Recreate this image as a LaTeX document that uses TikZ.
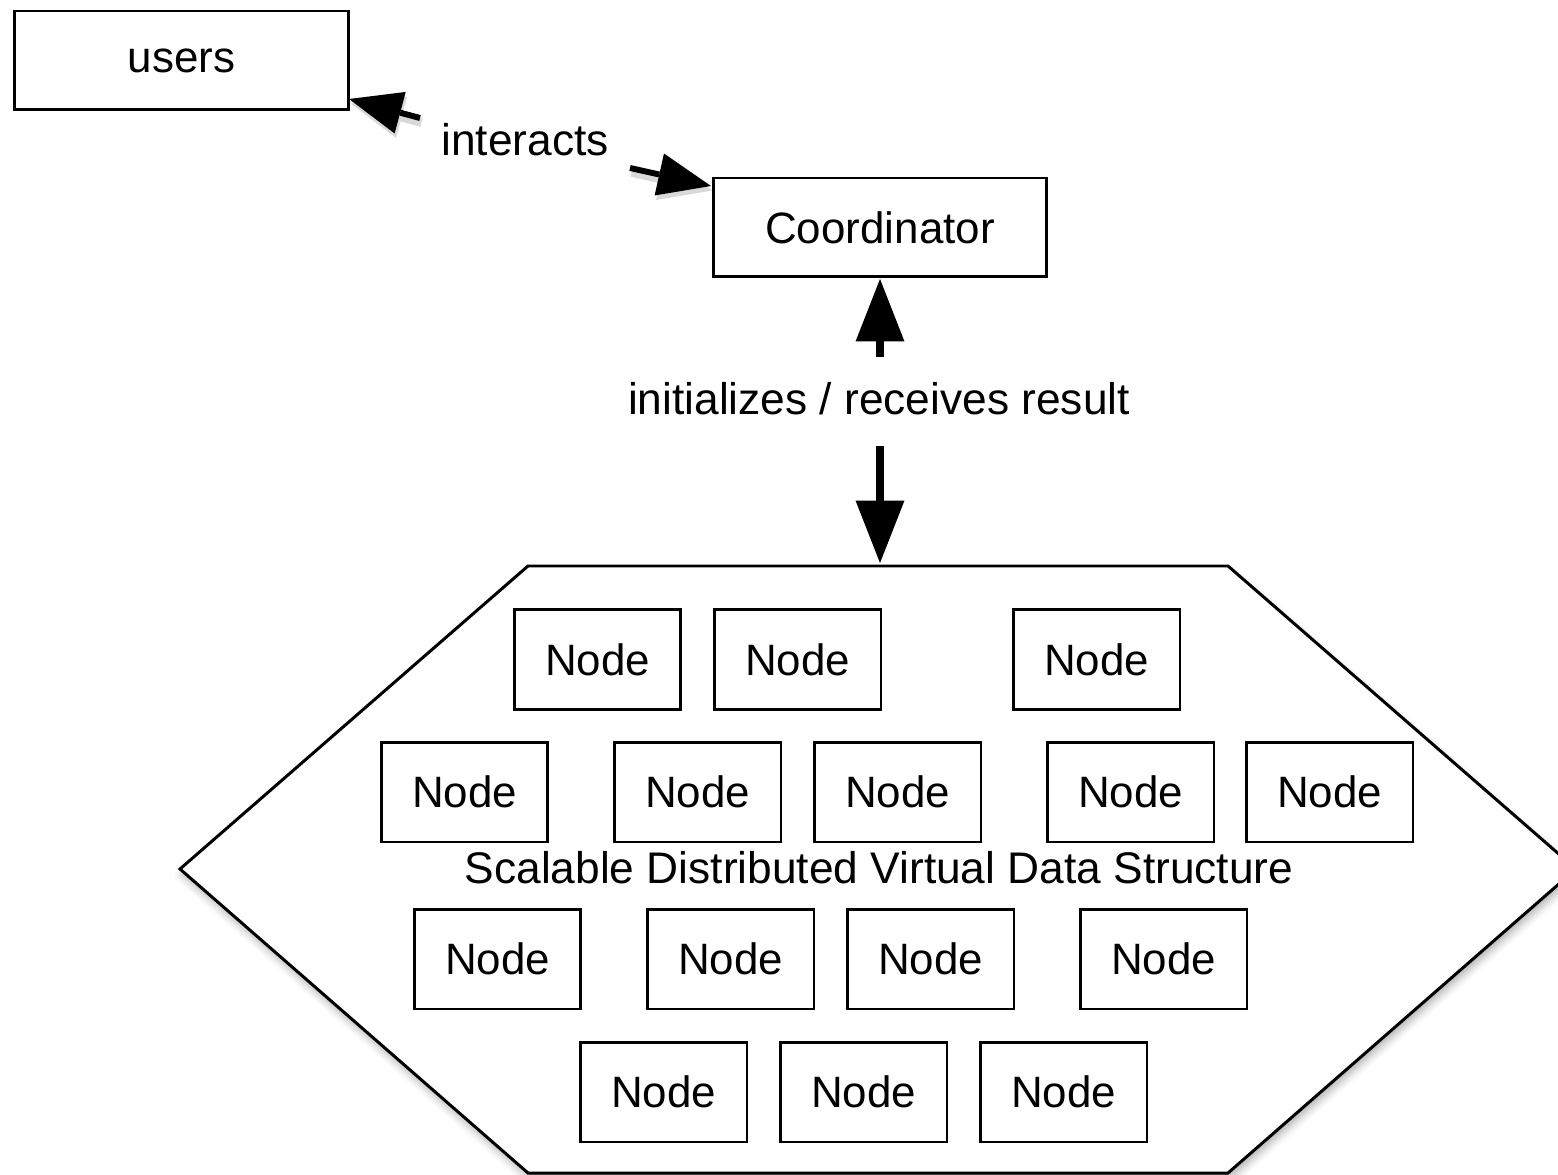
\documentclass[tikz,border=0pt]{standalone}
\usepackage{fontspec}
\setmainfont{Liberation Sans}
\usetikzlibrary{arrows.meta,shadows.blur}

\tikzset{
  box/.style={draw, line width=1.7pt, fill=white, minimum width=3.34cm, minimum height=2cm,
              inner sep=0pt, font=\fontsize{25}{30}\selectfont},
  bigbox/.style={box, minimum width=6.68cm, minimum height=1.98cm},
  lbl/.style={font=\fontsize{25.2}{30}\selectfont, inner sep=0pt},
  arrshadow/.style={preaction={draw=black, opacity=0.15, line width=5pt,
                    -{Triangle[length=1.06cm, width=0.86cm, line width=0pt, fill=black]},
                    transform canvas={shift={(0.03cm,-0.09cm)}}}},
  thinarrow/.style={line width=3.4pt, arrshadow,
                    -{Triangle[length=1.06cm, width=0.86cm, line width=0pt, fill=black]}},
  thickarrow/.style={line width=5pt,
                     -{Triangle[length=1.25cm, width=0.98cm, line width=0pt, fill=black]}},
}

\begin{document}
\begin{tikzpicture}[x=0.02cm, y=-0.02cm]
  \useasboundingbox (0,0) rectangle (1558,1175);

  % data structure outline
  \coordinate (h1) at (528,566);
  \coordinate (h2) at (1228,566);
  \coordinate (h3) at (1576,869);
  \coordinate (h4) at (1228,1173);
  \coordinate (h5) at (528,1173);
  \coordinate (h6) at (180,869);
  \path[draw, line width=1.7pt, line join=miter, fill=white,
        blur shadow={shadow xshift=0.04cm, shadow yshift=-0.12cm,
                     shadow blur radius=0.15cm, shadow opacity=30}]
    (h1) -- (h2) -- (h3) -- (h4) -- (h5) -- (h6) -- cycle;

  % users and coordinator
  \node[bigbox] (users) at (181.5,60.5) {users};
  \node[bigbox] (coord) at (880,227.5) {Coordinator};

  % nodes of the data structure
  \node[box] (n11) at (597.5,659.5) {Node};
  \node[box] (n12) at (797.5,659.5) {Node};
  \node[box] (n13) at (1096.5,659.5) {Node};

  \node[box] (n21) at (464.5,792) {Node};
  \node[box] (n22) at (697.5,792) {Node};
  \node[box] (n23) at (897.5,792) {Node};
  \node[box] (n24) at (1130.5,792) {Node};
  \node[box] (n25) at (1329.5,792) {Node};

  \node[lbl] (sdds) at (879,868) {Scalable Distributed Virtual Data Structure};

  \node[box] (n31) at (497.5,959) {Node};
  \node[box] (n32) at (730.5,959) {Node};
  \node[box] (n33) at (930.5,959) {Node};
  \node[box] (n34) at (1163.5,959) {Node};

  \node[box] (n41) at (663.5,1092) {Node};
  \node[box] (n42) at (863.5,1092) {Node};
  \node[box] (n43) at (1063.5,1092) {Node};

  % labels
  \node[lbl] (inter) at (525,140) {interacts};
  \node[lbl] (init) at (879,399) {initializes / receives result};

  % connector ends
  \coordinate (u0) at (420,118);
  \coordinate (u1) at (349,99);
  \coordinate (c0) at (630,168);
  \coordinate (c1) at (711,186);
  \coordinate (v0) at (880,357);
  \coordinate (v1) at (880,279);
  \coordinate (d0) at (880,446);
  \coordinate (d1) at (880,563);

  \draw[thinarrow] (u0) -- (u1);
  \draw[thinarrow] (c0) -- (c1);
  \draw[thickarrow] (v0) -- (v1);
  \draw[thickarrow] (d0) -- (d1);
\end{tikzpicture}
\end{document}
